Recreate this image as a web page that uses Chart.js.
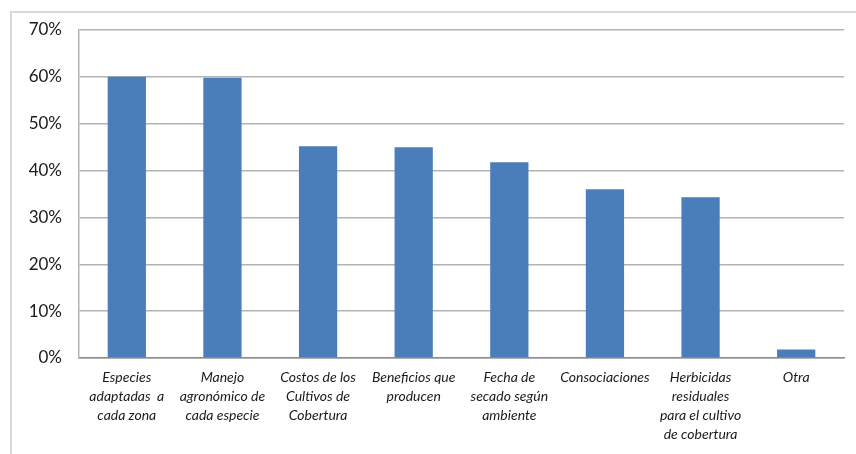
<!DOCTYPE html>
<html>
<head>
<meta charset="utf-8">
<script src="https://cdn.jsdelivr.net/npm/chart.js@4"></script>
<style>
  html, body { margin: 0; padding: 0; background: #fff; overflow: hidden; }
  #wrap { position: relative; width: 856px; height: 454px; }
  #frame { position: absolute; left: 10px; top: 11px; width: 900px; height: 500px;
           border: 2px solid #d9d9d9; box-sizing: border-box; }
  canvas { position: absolute; left: 0; top: 0; }
</style>
</head>
<body>
<div id="wrap">
  <div id="frame"></div>
  <canvas id="c" width="856" height="454"></canvas>
</div>
<script>
// Categories (multi-line labels) and share of respondents (%)
const categories = [
  ["Especies", "adaptadas  a", "cada zona"],
  ["Manejo", "agronómico de", "cada especie"],
  ["Costos de los", "Cultivos de", "Cobertura"],
  ["Beneficios que", "producen"],
  ["Fecha de", "secado según", "ambiente"],
  ["Consociaciones"],
  ["Herbicidas", "residuales", "para el cultivo", "de cobertura"],
  ["Otra"]
];
const values = [60.0, 59.8, 45.2, 45.0, 41.8, 36.0, 34.3, 1.8];
const yTicks = [0, 10, 20, 30, 40, 50, 60, 70];

new Chart(document.getElementById('c'), {
  type: 'bar',
  data: {
    labels: categories,
    datasets: [{
      data: values,
      backgroundColor: '#4a7ebb',
      borderWidth: 0,
      barPercentage: 0.4,
      categoryPercentage: 1.0
    }]
  },
  options: {
    responsive: false,
    animation: false,
    layout: { padding: { top: 30, right: 12, left: 0, bottom: 0 } },
    plugins: { legend: { display: false }, tooltip: { enabled: false } },
    scales: {
      x: {
        grid: { display: false, drawTicks: false },
        border: { color: '#8c8c8c', width: 1.5 },
        ticks: {
          color: '#1a1a1a',
          font: { family: 'Lato', size: 14, style: 'italic', lineHeight: 1.36 },
          padding: 10,
          maxRotation: 0,
          autoSkip: false
        },
        afterFit: s => { s.height = 96; }
      },
      y: {
        min: 0, max: 70,
        afterBuildTicks: s => { s.ticks = yTicks.map(v => ({ value: v })); },
        grid: { color: '#b3b3b3', lineWidth: 1.5, drawTicks: false },
        border: { color: '#b3b3b3', width: 1.5 },
        ticks: {
          color: '#1a1a1a',
          font: { family: 'Lato', size: 17 },
          padding: 17,
          callback: v => v + '%'
        },
        afterFit: s => { s.width = 79; }
      }
    }
  }
});
</script>
</body>
</html>
